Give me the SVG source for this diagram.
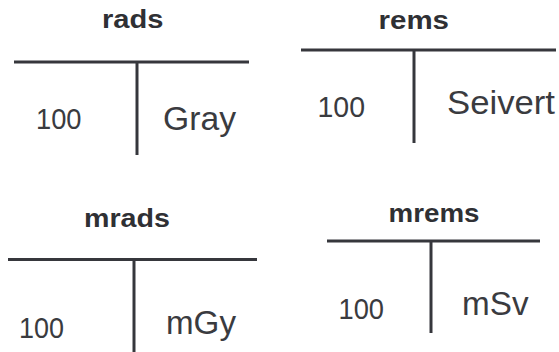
<svg xmlns="http://www.w3.org/2000/svg" width="559" height="352" viewBox="0 0 559 352">
<style>
.bg{fill:#ffffff}
.ln{stroke:#36373c;stroke-width:3;fill:none}
.t{font-family:"Liberation Sans",Arial,sans-serif;font-weight:bold;font-size:25px;fill:#2f3034}
.n{font-family:"Liberation Sans",Arial,sans-serif;font-size:30px;fill:#3a3b3f}
.u{font-family:"Liberation Sans",Arial,sans-serif;font-size:33px;fill:#3a3b3f}
</style>
<rect class="bg" x="0" y="0" width="559" height="352"/>
<g id="rads">
<text class="t" x="102" y="27.5" textLength="61.5" lengthAdjust="spacingAndGlyphs">rads</text>
<line class="ln" x1="14" y1="62" x2="249" y2="62"/>
<line class="ln" x1="137" y1="62" x2="137" y2="155"/>
<text class="n" x="36" y="128.5" textLength="45.5" lengthAdjust="spacingAndGlyphs">100</text>
<text class="u" x="163" y="129.5" textLength="73" lengthAdjust="spacingAndGlyphs">Gray</text>
</g>
<g id="rems">
<text class="t" x="378.5" y="29" textLength="70.5" lengthAdjust="spacingAndGlyphs">rems</text>
<line class="ln" x1="301" y1="50" x2="556" y2="50"/>
<line class="ln" x1="414" y1="50" x2="414" y2="143"/>
<text class="n" x="317.5" y="117" textLength="47.5" lengthAdjust="spacingAndGlyphs">100</text>
<text class="u" x="447" y="113.5" textLength="108" lengthAdjust="spacingAndGlyphs">Seivert</text>
</g>
<g id="mrads">
<text class="t" x="84" y="226.5" textLength="86" lengthAdjust="spacingAndGlyphs">mrads</text>
<line class="ln" x1="8" y1="259.5" x2="257" y2="259.5"/>
<line class="ln" x1="134" y1="259.5" x2="134" y2="352"/>
<text class="n" x="19" y="337.5" textLength="45" lengthAdjust="spacingAndGlyphs">100</text>
<text class="u" x="166" y="333.5" textLength="70" lengthAdjust="spacingAndGlyphs">mGy</text>
</g>
<g id="mrems">
<text class="t" x="388.5" y="221.5" textLength="91" lengthAdjust="spacingAndGlyphs">mrems</text>
<line class="ln" x1="327" y1="241" x2="540" y2="241"/>
<line class="ln" x1="431" y1="241" x2="431" y2="333"/>
<text class="n" x="338.5" y="319" textLength="45.5" lengthAdjust="spacingAndGlyphs">100</text>
<text class="u" x="462" y="314.5" textLength="66.5" lengthAdjust="spacingAndGlyphs">mSv</text>
</g>
<g id="connectors"></g>
</svg>
